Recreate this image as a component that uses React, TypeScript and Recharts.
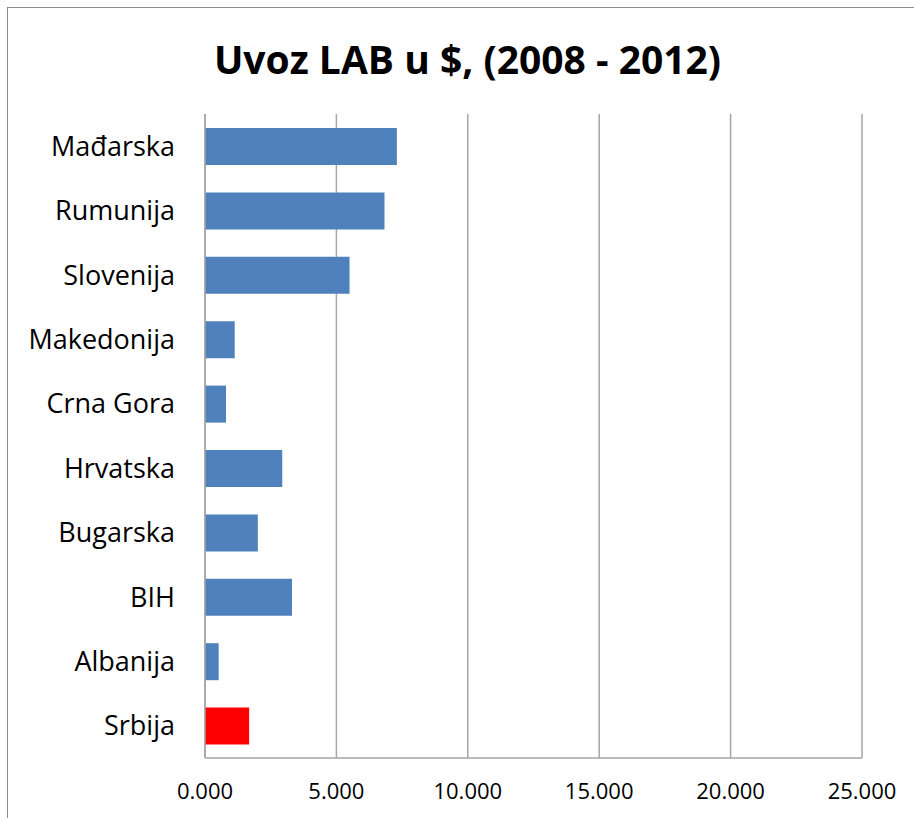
import React from 'react';
import { BarChart, Bar, XAxis, YAxis, CartesianGrid, Cell } from 'recharts';

const countries = ['Mađarska', 'Rumunija', 'Slovenija', 'Makedonija', 'Crna Gora', 'Hrvatska', 'Bugarska', 'BIH', 'Albanija', 'Srbija'];
const values = [7.3, 6.83, 5.5, 1.13, 0.8, 2.94, 2.01, 3.31, 0.52, 1.68];
const barColors = ['#4f81bd', '#4f81bd', '#4f81bd', '#4f81bd', '#4f81bd', '#4f81bd', '#4f81bd', '#4f81bd', '#4f81bd', '#ff0000'];
const xTicks = [0, 5, 10, 15, 20, 25];
const title = 'Uvoz LAB u $, (2008 - 2012)';

const data = countries.map((c, i) => ({ name: c, value: values[i] }));

const FONT = '"Open Sans", "DejaVu Sans", sans-serif';

export default function App() {
  return (
    <div style={{ position: 'absolute', left: 0, top: 0, width: 914, height: 818, overflow: 'hidden', background: '#fff' }}>
      <div style={{ position: 'absolute', left: 7, top: 7, width: 940, height: 840, border: '1.5px solid #8c8c8c', boxSizing: 'border-box' }} />
      <div style={{ position: 'absolute', left: 0, top: 29, width: 935, textAlign: 'center', fontFamily: FONT, fontWeight: 700, fontSize: 39, lineHeight: '60px', color: '#000' }}>
        {title}
      </div>
      <div style={{ position: 'absolute', left: 0, top: 0 }}>
        <BarChart
          width={914}
          height={818}
          data={data}
          layout="vertical"
          margin={{ top: 114, right: 52, bottom: 20, left: 0 }}
          barSize={37}
        >
          <CartesianGrid horizontal={false} vertical={true} stroke="#a6a6a6" strokeWidth={1.5} />
          <XAxis
            type="number"
            domain={[0, 25]}
            ticks={xTicks}
            tickFormatter={(v: number) => v.toFixed(3)}
            axisLine={{ stroke: '#a6a6a6', strokeWidth: 1.5 }}
            tickLine={false}
            tickSize={0}
            tickMargin={25}
            height={40}
            tick={{ fill: '#000', fontSize: 22, fontFamily: FONT }}
            interval={0}
          />
          <YAxis
            type="category"
            dataKey="name"
            width={205}
            axisLine={{ stroke: '#a6a6a6', strokeWidth: 1.5 }}
            tickLine={false}
            tickSize={0}
            tickMargin={30}
            tick={{ fill: '#000', fontSize: 27, fontFamily: FONT }}
            interval={0}
          />
          <Bar dataKey="value" isAnimationActive={false}>
            {data.map((d, i) => (
              <Cell key={d.name} fill={barColors[i]} />
            ))}
          </Bar>
        </BarChart>
      </div>
    </div>
  );
}
